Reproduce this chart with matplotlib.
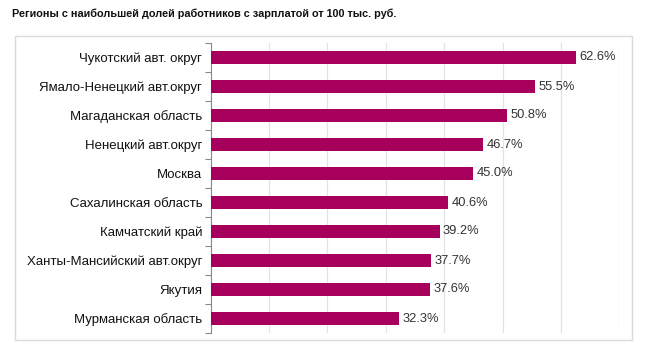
import matplotlib
matplotlib.use('Agg')
import matplotlib.pyplot as plt
from matplotlib.patches import Rectangle

plt.rcParams['font.family'] = ['Liberation Sans', 'DejaVu Sans']

# Data
regions = ['Чукотский авт. округ', 'Ямало-Ненецкий авт.округ', 'Магаданская область',
           'Ненецкий авт.округ', 'Москва', 'Сахалинская область', 'Камчатский край',
           'Ханты-Мансийский авт.округ', 'Якутия', 'Мурманская область']
shares = [62.6, 55.5, 50.8, 46.7, 45.0, 40.6, 39.2, 37.7, 37.6, 32.3]
title = 'Регионы с наибольшей долей работников с зарплатой от 100 тыс. руб.'

BAR_COLOR = '#A6005C'
W, H = 645, 349

fig = plt.figure(figsize=(W / 100, H / 100), dpi=100)

# outer frame around the chart
fig.patches.append(Rectangle((14.5 / W, 1 - 340 / H), (632 - 14.5) / W, (340 - 36) / H,
                             transform=fig.transFigure, fill=False,
                             edgecolor='#D9D9D9', linewidth=1.0))

fig.text(12 / W, 1 - 14 / H, title, fontsize=7.8, fontweight='bold',
         ha='left', va='center', color='#111111')

ax = fig.add_axes([210.7 / W, 1 - 333 / H, (619.3 - 210.7) / W, (333 - 43) / H])

y = list(range(len(regions)))
ax.barh(y, shares, height=0.42, color=BAR_COLOR, zorder=3)
for yi, v in zip(y, shares):
    ax.text(v + 0.6, yi, f'{v:.1f}%', va='center', ha='left', fontsize=9.3, color='#333333')

ax.set_xlim(0, 70)
ax.set_ylim(len(regions) - 0.5, -0.5)
ax.set_xticks(range(10, 71, 10))
ax.tick_params(axis='x', length=0, labelbottom=False)
ax.grid(axis='x', color='#E3E3E3', linewidth=0.9, zorder=0)

ax.set_yticks(y)
ax.set_yticklabels(regions, fontsize=9.5, color='#111111')
ax.tick_params(axis='y', which='major', length=0, pad=6)
ax.set_yticks([i - 0.5 for i in range(len(regions) + 1)], minor=True)
ax.tick_params(axis='y', which='minor', length=4, color='#888888', width=0.8)

for s in ['top', 'right', 'bottom']:
    ax.spines[s].set_visible(False)
ax.spines['left'].set_color('#888888')
ax.spines['left'].set_linewidth(0.8)

fig.savefig('out.png', dpi=100)
